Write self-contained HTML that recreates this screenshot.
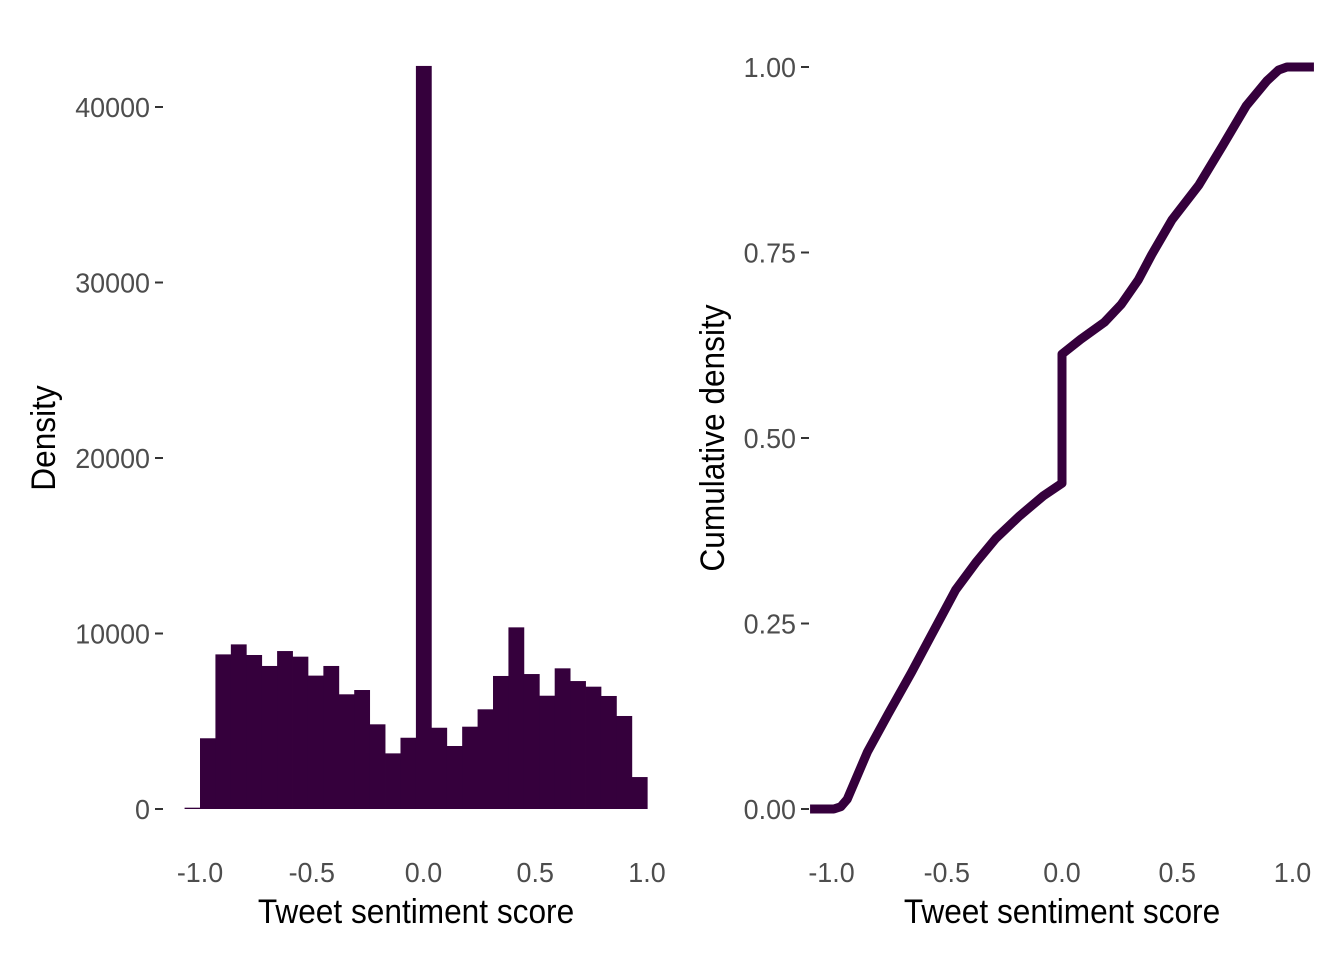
<!DOCTYPE html>
<html><head><meta charset="utf-8"><style>
body{margin:0;background:#fff}
svg text{font-family:"Liberation Sans Narrow","Liberation Sans",sans-serif}
.tk{font-size:28px;fill:#4d4d4d}
.tt{font-size:34px;fill:#000}
</style></head><body>
<svg id="c" width="1344" height="960" xmlns="http://www.w3.org/2000/svg"></svg>
<script>
const histCounts=[75,4030,8810,9380,8775,8150,9000,8680,7600,8150,6535,6780,4825,3170,4060,42340,4630,3590,4690,5680,7580,10350,7690,6455,8015,7290,6970,6440,5300,1820];
const histStart=-1.069;
const binWidth=0.069;
const histYTicks=[0,10000,20000,30000,40000];
const xTicks=[-1.0,-0.5,0.0,0.5,1.0];
const ecdfX=[-1.093,-0.990,-0.960,-0.932,-0.844,-0.756,-0.653,-0.550,-0.462,-0.374,-0.286,-0.184,-0.081,0,0,0.081,0.184,0.257,0.331,0.389,0.477,0.594,0.697,0.800,0.888,0.940,0.976,1.093];
const ecdfY=[0,0,0.003,0.013,0.077,0.127,0.184,0.244,0.295,0.332,0.365,0.395,0.422,0.439,0.613,0.633,0.656,0.680,0.713,0.747,0.794,0.841,0.894,0.948,0.981,0.996,1.0,1.0];
const ecdfYTicks=[0,0.25,0.5,0.75,1.0];
const svg=document.getElementById('c');
const NS='http://www.w3.org/2000/svg';
function mk(t,a,p){const e=document.createElementNS(NS,t);for(const k in a)e.setAttribute(k,a[k]);(p||svg).appendChild(e);return e;}
function condense(t,f){const w=t.getComputedTextLength();if(w>0){t.setAttribute('textLength',w*f);t.setAttribute('lengthAdjust','spacingAndGlyphs');}}
const lx=v=>423.5+v*223.5, ly=v=>809-v*0.01755;
const gl=mk('g',{});


histCounts.forEach((c,i)=>{
  const x0=lx(histStart+i*binWidth), x1=lx(histStart+(i+1)*binWidth);
  const r=mk('rect',{x:x0,y:ly(c),width:x1-x0+0.4,height:809-ly(c),fill:'#35003c'},gl);
  
  
});
histYTicks.forEach(v=>{
  const l=mk('line',{x1:155,x2:163,y1:ly(v),y2:ly(v),stroke:'#333','stroke-width':2},gl);
  
  
  const t=mk('text',{x:150,y:ly(v)+10,'text-anchor':'end',class:'tk'},gl);
  t.textContent=v;
  
  
  condense(t,0.96);
});
xTicks.forEach(v=>{
  const t=mk('text',{x:lx(v),y:882,'text-anchor':'middle',class:'tk'},gl);
  t.textContent=v.toFixed(1);
  
  
  condense(t,0.96);
});
let t=mk('text',{x:416,y:923,'text-anchor':'middle',class:'tt'},gl);t.textContent='Tweet sentiment score';


condense(t,0.93);
t=mk('text',{x:0,y:0,'text-anchor':'middle',class:'tt',transform:'translate(55,438) rotate(-90)'},gl);t.textContent='Density';


condense(t,0.93);
const rx=v=>1062+v*230.5, ry=v=>809-v*742;
const gr=mk('g',{});


const pl=mk('polyline',{points:ecdfX.map((x,i)=>rx(x)+','+ry(ecdfY[i])).join(' '),fill:'none',stroke:'#35003c','stroke-width':9,'stroke-linejoin':'round'},gr);


ecdfYTicks.forEach(v=>{
  const l=mk('line',{x1:801,x2:809,y1:ry(v),y2:ry(v),stroke:'#333','stroke-width':2},gr);
  
  
  const t=mk('text',{x:796,y:ry(v)+10,'text-anchor':'end',class:'tk'},gr);
  t.textContent=v.toFixed(2);
  
  
  condense(t,0.96);
});
xTicks.forEach(v=>{
  const t=mk('text',{x:rx(v),y:882,'text-anchor':'middle',class:'tk'},gr);
  t.textContent=v.toFixed(1);
  
  
  condense(t,0.96);
});
t=mk('text',{x:1062,y:923,'text-anchor':'middle',class:'tt'},gr);t.textContent='Tweet sentiment score';


condense(t,0.93);
t=mk('text',{x:0,y:0,'text-anchor':'middle',class:'tt',transform:'translate(724,438) rotate(-90)'},gr);t.textContent='Cumulative density';


condense(t,0.93);
</script>
</body></html>
